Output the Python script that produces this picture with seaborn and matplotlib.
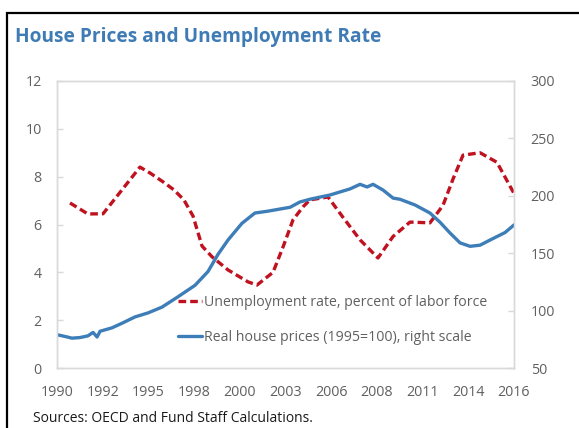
import matplotlib
matplotlib.use("Agg")
import matplotlib.pyplot as plt
import matplotlib.patches as mpatches
from matplotlib.lines import Line2D
import numpy as np
import pandas as pd
import seaborn as sns

# ---- data ----
unemp_year = [1990.74, 1991.76, 1992.62, 1993.70, 1994.72, 1995.30, 1996.00, 1996.65,
              1997.22, 1997.74, 1998.25, 1998.82, 1999.73, 2000.87, 2001.38, 2002.29,
              2002.86, 2003.43, 2004.00, 2004.39, 2005.42, 2006.27, 2007.24, 2008.26,
              2009.12, 2010.08, 2011.22, 2011.96, 2012.53, 2013.10, 2014.07, 2015.03,
              2016.00]
unemp_rate = [6.9, 6.44, 6.45, 7.45, 8.4, 8.15, 7.8, 7.45,
              7.03, 6.35, 5.1, 4.65, 4.1, 3.6, 3.47, 4.0,
              5.06, 6.2, 6.74, 7.03, 7.15, 6.3, 5.36, 4.6,
              5.5, 6.1, 6.07, 6.8, 7.9, 8.9, 9.0, 8.6,
              7.3]

house_year = [1990.00, 1990.45, 1990.85, 1991.30, 1991.76, 1992.05, 1992.28, 1992.45,
              1993.13, 1993.70, 1994.44, 1995.18, 1995.97, 1996.88, 1997.85, 1998.59,
              1999.16, 1999.73, 2000.52, 2001.26, 2001.95, 2003.26, 2003.82, 2004.39,
              2005.53, 2006.67, 2007.24, 2007.64, 2007.98, 2008.55, 2009.12, 2009.51,
              2010.37, 2011.22, 2011.79, 2012.36, 2012.93, 2013.50, 2014.07, 2014.64,
              2015.49, 2016.00]
house_price = [79, 77.5, 76, 76.5, 78, 81, 77, 82,
               85, 89, 94.5, 98, 103, 112, 122, 134,
               149, 161.5, 176, 185, 186.5, 190, 194.6, 197,
               200.7, 206, 210, 207.7, 210, 205, 198, 197,
               192, 185, 177, 167.6, 159, 156, 157, 161.5,
               168, 174.6]

x_tick_labels = ["1990", "1992", "1995", "1998", "2000", "2003", "2006",
                 "2008", "2011", "2014", "2016"]
left_ticks = [0, 2, 4, 6, 8, 10, 12]
right_ticks = [50, 100, 150, 200, 250, 300]

unemp_label = "Unemployment rate, percent of labor force"
house_label = "Real house prices (1995=100), right scale"
title = "House Prices and Unemployment Rate"
source = "Sources: OECD and Fund Staff Calculations."

# ---- style ----
sns.set_theme(style="white")
plt.rcParams["font.family"] = ["Open Sans", "DejaVu Sans"]

RED = "#c0111f"
BLUE = "#3d7db8"
GRAY_TXT = "#606060"
SPINE = "#d9d9d9"

W, H = 579, 428
fig = plt.figure(figsize=(W / 100, H / 100), dpi=100)
ax = fig.add_axes([57 / W, 1 - 368 / H, (514 - 57) / W, (368 - 81) / H])
ax2 = ax.twinx()

df_u = pd.DataFrame({"year": unemp_year, "rate": unemp_rate})
df_h = pd.DataFrame({"year": house_year, "price": house_price})

sns.lineplot(data=df_u, x="year", y="rate", ax=ax, color=RED, linewidth=2.4,
             linestyle=(0, (2.3, 1.2)), sort=False)
sns.lineplot(data=df_h, x="year", y="price", ax=ax2, color=BLUE, linewidth=2.4,
             sort=False)

ax.set_xlim(1990, 2016)
ax.set_ylim(0, 12)
ax2.set_ylim(50, 300)
ax.set_xticks(np.linspace(1990, 2016, len(x_tick_labels)))
ax.set_xticklabels(x_tick_labels)
ax.set_yticks(left_ticks)
ax.set_yticklabels([str(t) for t in left_ticks])
ax2.set_yticks(right_ticks)
ax2.set_yticklabels([str(t) for t in right_ticks])

for a in (ax, ax2):
    a.set_xlabel("")
    a.set_ylabel("")
    for s in a.spines.values():
        s.set_color(SPINE)
        s.set_linewidth(1.0)
    a.tick_params(colors=SPINE, labelcolor=GRAY_TXT, labelsize=10.3,
                  direction="in", length=4, width=1)
ax.tick_params(axis="x", pad=12)
ax.tick_params(axis="y", pad=11, left=True)
ax2.tick_params(axis="y", pad=12, right=True)

handles = [Line2D([], [], color=RED, linewidth=2.4, linestyle=(0, (2.3, 1.2))),
           Line2D([], [], color=BLUE, linewidth=2.4)]
leg = ax2.legend(handles, [unemp_label, house_label], loc="upper left",
                 bbox_to_anchor=(0.265, 0.255), frameon=False, fontsize=10.2,
                 handlelength=1.7, handletextpad=0.15, labelspacing=1.4,
                 borderpad=0, borderaxespad=0)
for t in leg.get_texts():
    t.set_color(GRAY_TXT)

fig.text(15 / W, 1 - 37 / H, title, color="#3f7bb5", fontsize=13.8,
         fontweight="bold", va="center", ha="left")
fig.text(33 / W, 1 - 419 / H, source, color="#1a1a1a", fontsize=10,
         va="center", ha="left")

frame = mpatches.Rectangle((7.5 / W, -0.1), 1.2, (H - 13) / H + 0.1,
                           transform=fig.transFigure, fill=False,
                           edgecolor="black", linewidth=1.6, clip_on=False)
fig.patches.append(frame)

fig.savefig("out.png", dpi=100)
